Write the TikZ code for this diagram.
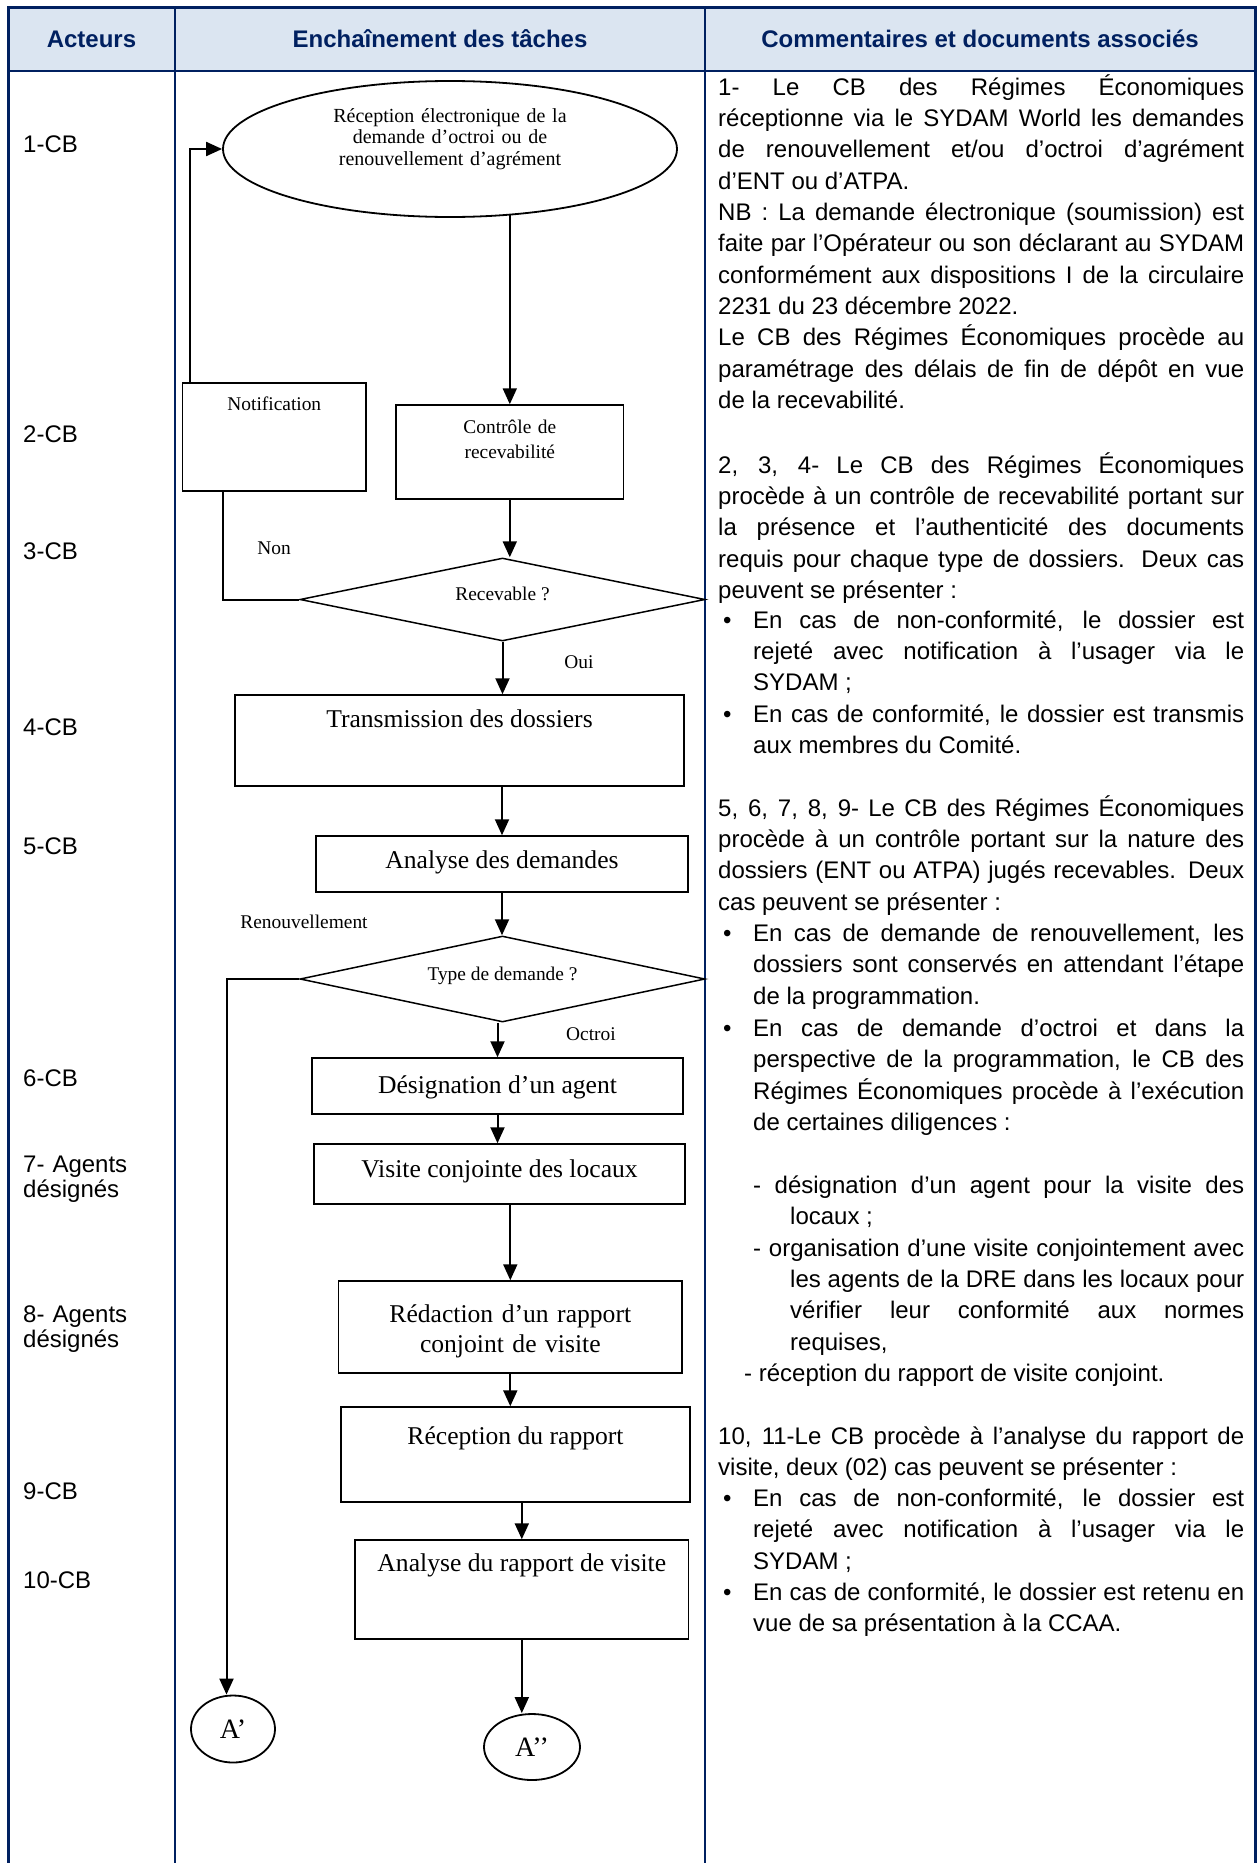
\documentclass[tikz,border=0pt]{standalone}
\usepackage{fontspec}
\setmainfont{Liberation Serif}
\newfontfamily\arial{Liberation Sans}
\usetikzlibrary{shapes.geometric,arrows.meta,calc}
\definecolor{tblblue}{RGB}{0,32,96}
\definecolor{hdrfill}{RGB}{219,229,241}
\tolerance=10000
\hbadness=10000
\hyphenpenalty=10000

\begin{document}
\begin{tikzpicture}[x=1pt,y=-1pt,
  box/.style={draw,rectangle,line width=1.5pt,inner sep=0pt,align=center,font=\fontsize{25.6}{30}\selectfont},
  small box/.style={box,font=\fontsize{19.4}{25}\selectfont},
  dec/.style={draw,diamond,aspect=4.9,line width=1.5pt,inner sep=0pt,text height=10pt,text depth=8pt,font=\fontsize{19.4}{24}\selectfont},
  ell/.style={draw,ellipse,line width=1.8pt,inner sep=0pt,align=center},
  lbl/.style={inner sep=0pt,font=\fontsize{19.4}{24}\selectfont},
  lnk/.style={line width=2pt},
  arr/.style={lnk,-{Triangle[length=16pt,width=14pt]}},
  hdr/.style={inner sep=0pt,text=tblblue,font=\arial\bfseries\fontsize{24}{28}\selectfont},
  act/.style={anchor=base west,inner sep=0pt,text width=145pt,align=left,font=\arial\fontsize{24}{25}\selectfont},
  cmt/.style={anchor=base west,inner sep=0pt,text width=526pt,align=justify,font=\arial\fontsize{24}{31.35}\selectfont},
  itm/.style={cmt,text width=491pt}]
\useasboundingbox (0,0) rectangle (1259,1863);

\fill[hdrfill] (8,7) rectangle (1255,71);
\draw[tblblue,line width=3pt] (8,1863) -- (8,7) -- (1255,7) -- (1255,1863);
\draw[tblblue,line width=2.5pt] (8,71) -- (1255,71);
\draw[tblblue,line width=2pt] (175,7) -- (175,1863);
\draw[tblblue,line width=2pt] (705,7) -- (705,1863);

\node[hdr] (h1) at (91.5,39) {Acteurs};
\node[hdr] (h2) at (440,39) {Enchaînement des tâches};
\node[hdr] (h3) at (980,39) {Commentaires et documents associés};

\node[act] (s1) at (23,152) {1-CB};
\node[act] (s2) at (23,442) {2-CB};
\node[act] (s3) at (23,559) {3-CB};
\node[act] (s4) at (23,735) {4-CB};
\node[act] (s5) at (23,854) {5-CB};
\node[act] (s6) at (23,1086) {6-CB};
\node[act] (s7) at (23,1172) {7- Agents\\désignés};
\node[act] (s8) at (23,1322) {8- Agents\\désignés};
\node[act] (s9) at (23,1499) {9-CB};
\node[act] (s10) at (23,1588) {10-CB};

\node[ell,minimum width=454pt,minimum height=136pt,text width=240pt,text height=20pt,text depth=74pt,font=\fontsize{20}{21.7}\selectfont] (recv) at (450,149) {Réception électronique de la\\demande d’octroi ou de\\renouvellement d’agrément};
\node[small box,minimum width=183.5pt,text height=27pt,text depth=81pt] (notif) at (274.3,437) {Notification};
\node[small box,minimum width=227.6pt,text width=150pt,text height=28pt,text depth=66pt] (ctrl) at (509.8,452) {Contrôle de\\recevabilité};
\node[dec,minimum width=405pt,minimum height=83pt] (rec) at (502.5,599.5) {Recevable ?};
\node[box,minimum width=449pt,text height=32pt,text depth=59pt] (trans) at (459.5,740.5) {Transmission des dossiers};
\node[box,minimum width=372pt,text height=32pt,text depth=24pt] (anal) at (502,864) {Analyse des demandes};
\node[dec,minimum width=405pt,minimum height=86pt] (typ) at (502.5,979) {Type de demande ?};
\node[box,minimum width=371pt,text height=35pt,text depth=21pt] (desig) at (497.5,1086) {Désignation d’un agent};
\node[box,minimum width=371pt,text height=33pt,text depth=27pt] (visit) at (499.5,1174) {Visite conjointe des locaux};
\node[box,minimum width=343.4pt,text width=300pt,text height=41pt,text depth=51pt] (redac) at (510.3,1327) {Rédaction d’un rapport\\conjoint de visite};
\node[box,minimum width=349pt,text height=37pt,text depth=58pt] (recep) at (515.5,1454.5) {Réception du rapport};
\node[box,minimum width=333.6pt,text height=31pt,text depth=68pt] (analr) at (521.8,1589.5) {Analyse du rapport de visite};
\node[ell,minimum width=84pt,minimum height=67pt,font=\fontsize{28}{30}\selectfont] (a1) at (233,1729) {A’};
\node[ell,minimum width=96pt,minimum height=66pt,font=\fontsize{28}{30}\selectfont] (a2) at (532,1747) {A’’};

\node[lbl] (non) at (274,548) {Non};
\node[lbl] (oui) at (579,662) {Oui};
\node[lbl] (ren) at (304,922) {Renouvellement};
\node[lbl] (oct) at (591,1034) {Octroi};

\draw[arr] (ctrl.north |- recv.-48) -- (ctrl.north);
\draw[arr] (ctrl.south) -- (ctrl.south |- rec.north);
\draw[lnk] (rec.west) -| ($(notif.south west)+(41,0)$);
\draw[arr] ($(notif.north west)+(8.5,0)$) |- (recv.west);
\draw[arr] (rec.south) -- (rec.south |- trans.north);
\draw[arr] (trans.south -| anal.north) -- (anal.north);
\draw[arr] (anal.south) -- (anal.south |- typ.north);
\draw[arr] (typ.south -| desig.north) -- (desig.north);
\draw[arr] (desig.south) -- (desig.south |- visit.north);
\draw[arr] (visit.south -| redac.north) -- (redac.north);
\draw[arr] (redac.south) -- (redac.south |- recep.north);
\draw[arr] (recep.south -| analr.north) -- (analr.north);
\draw[arr] (analr.south) -- (analr.south |- a2.north);
\draw[arr] (typ.west) -| ($(a1.north)+(-6.5,0)$);

\node[cmt] (c1) at (718,95) {1- Le CB des Régimes Économiques\linebreak réceptionne via le SYDAM World les demandes\linebreak de renouvellement et/ou d’octroi d’agrément\linebreak d’ENT ou d’ATPA.\par NB : La demande électronique (soumission) est\linebreak faite par l’Opérateur ou son déclarant au SYDAM\linebreak conformément aux dispositions I de la circulaire\linebreak 2231 du 23 décembre 2022.\par Le CB des Régimes Économiques procède au\linebreak paramétrage des délais de fin de dépôt en vue\linebreak de la recevabilité.};
\node[cmt] (c2) at (718,473) {2, 3, 4- Le CB des Régimes Économiques\linebreak procède à un contrôle de recevabilité portant sur\linebreak la présence et l’authenticité des documents\linebreak requis pour chaque type de dossiers. Deux cas\linebreak peuvent se présenter :};
\node[itm] (c3) at (753,628) {\leavevmode\llap{\makebox[30pt][l]{•}}En cas de non-conformité, le dossier est\linebreak rejeté avec notification à l’usager via le\linebreak SYDAM ;};
\node[itm] (c4) at (753,722) {\leavevmode\llap{\makebox[30pt][l]{•}}En cas de conformité, le dossier est transmis\linebreak aux membres du Comité.};
\node[cmt] (c5) at (718,816) {5, 6, 7, 8, 9- Le CB des Régimes Économiques\linebreak procède à un contrôle portant sur la nature des\linebreak dossiers (ENT ou ATPA) jugés recevables. Deux\linebreak cas peuvent se présenter :};
\node[itm] (c6) at (753,941.5) {\leavevmode\llap{\makebox[30pt][l]{•}}En cas de demande de renouvellement, les\linebreak dossiers sont conservés en attendant l’étape\linebreak de la programmation.};
\node[itm] (c7) at (753,1036.5) {\leavevmode\llap{\makebox[30pt][l]{•}}En cas de demande d’octroi et dans la\linebreak perspective de la programmation, le CB des\linebreak Régimes Économiques procède à l’exécution\linebreak de certaines diligences :};
\node[itm] (c8) at (753,1193) {\hangindent=37pt\hangafter=1 - désignation d’un agent pour la visite des\linebreak locaux ;\par};
\node[itm] (c9) at (753,1256) {\hangindent=37pt\hangafter=1 - organisation d’une visite conjointement avec\linebreak les agents de la DRE dans les locaux pour\linebreak vérifier leur conformité aux normes\linebreak requises,\par};
\node[itm] (c10) at (744,1381) {- réception du rapport de visite conjoint.};
\node[cmt] (c11) at (718,1444) {10, 11-Le CB procède à l’analyse du rapport de\linebreak visite, deux (02) cas peuvent se présenter :};
\node[itm] (c12) at (753,1506.5) {\leavevmode\llap{\makebox[30pt][l]{•}}En cas de non-conformité, le dossier est\linebreak rejeté avec notification à l’usager via le\linebreak SYDAM ;};
\node[itm] (c13) at (753,1600.5) {\leavevmode\llap{\makebox[30pt][l]{•}}En cas de conformité, le dossier est retenu en\linebreak vue de sa présentation à la CCAA.};
\end{tikzpicture}
\end{document}
